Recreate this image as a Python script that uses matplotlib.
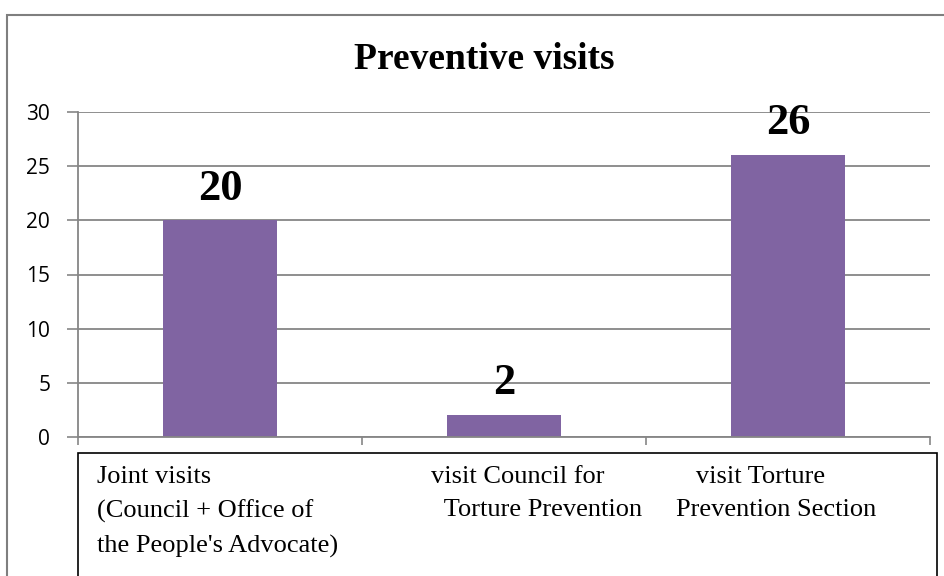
import matplotlib
matplotlib.use('Agg')
import matplotlib.pyplot as plt
from matplotlib.patches import Rectangle

# data
categories = ["Joint visits\n(Council + Office of\nthe People's Advocate)",
              "visit Council for\n  Torture Prevention",
              "   visit Torture\nPrevention Section"]
values = [20, 2, 26]
yticks = [0, 5, 10, 15, 20, 25, 30]

BAR_COLOR = '#8064a2'
GRID_COLOR = '#868686'
W, H = 945, 576

fig = plt.figure(figsize=(W / 100, H / 100), dpi=100)
ax = fig.add_axes([78 / W, 1 - 437 / H, (930 - 78) / W, (437 - 112) / H])

x = list(range(len(values)))
ax.bar(x, values, width=0.4, color=BAR_COLOR, zorder=2)
ax.set_xlim(-0.5, len(values) - 0.5)
ax.set_ylim(0, 30)
ax.set_yticks(yticks)
ax.set_yticklabels([str(t) for t in yticks], fontsize=15, family='Open Sans')
ax.tick_params(axis='y', length=8, width=1.2, color=GRID_COLOR, pad=12)
ax.yaxis.grid(True, color=GRID_COLOR, linewidth=1.3, zorder=0)
ax.set_axisbelow(True)

# category separators as minor ticks below the axis
ax.set_xticks([])
ax.set_xticks([-0.5, 0.5, 1.5, 2.5], minor=True)
ax.tick_params(axis='x', which='minor', length=6, width=1.2, color=GRID_COLOR)
for s in ['top', 'right']:
    ax.spines[s].set_visible(False)
ax.spines['left'].set_color(GRID_COLOR)
ax.spines['left'].set_linewidth(1.3)
ax.spines['bottom'].set_color(GRID_COLOR)
ax.spines['bottom'].set_linewidth(1.3)

for xi, v in zip(x, values):
    ax.annotate(str(v), (xi, v), xytext=(0, 15), textcoords='offset points',
                ha='center', va='baseline', fontsize=32, fontweight='bold',
                family='Liberation Serif')

fig.text(484 / W, 1 - 69 / H, 'Preventive visits', ha='center', va='baseline',
         fontsize=27, fontweight='bold', family='Liberation Serif')

# outer chart border
fig.patches.append(Rectangle((7 / W, -0.1), 1.2, 1 - 15 / H + 0.1,
                             transform=fig.transFigure, fill=False,
                             edgecolor='#7f7f7f', linewidth=1.5))

# label box over the category axis
fig.patches.append(Rectangle((78 / W, -0.1), (937 - 78) / W, 0.1 + 1 - 453 / H,
                             transform=fig.transFigure, facecolor='white',
                             edgecolor='black', linewidth=1.2, zorder=5))
label_x = [97, 431, 676]
for lx, lab in zip(label_x, categories):
    fig.text(lx / W, 1 - 466 / H, lab, ha='left', va='top', fontsize=19,
             family='Liberation Serif', linespacing=1.67, zorder=6)

fig.savefig('out.png', dpi=100)
